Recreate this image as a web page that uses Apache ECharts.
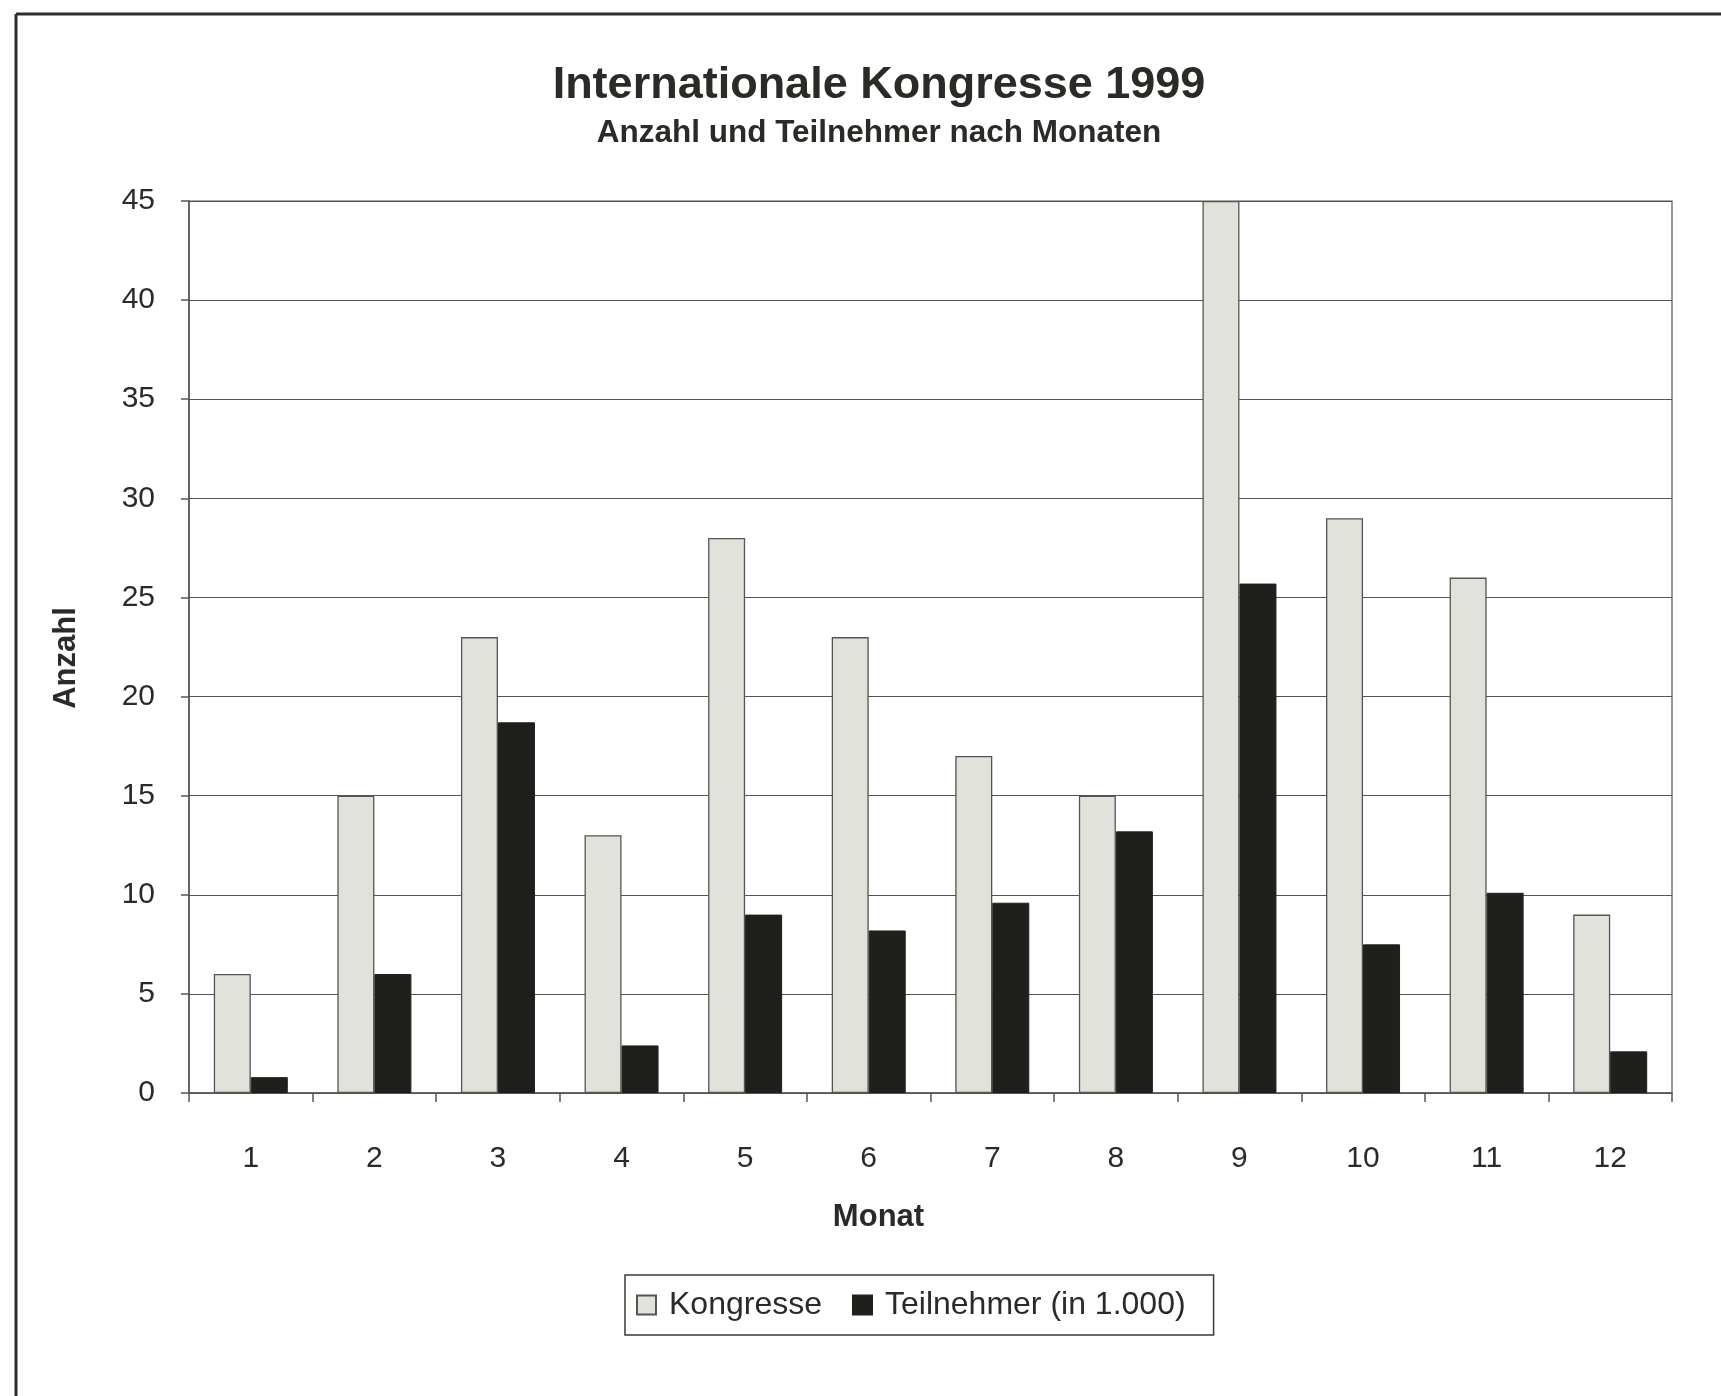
<!DOCTYPE html>
<html>
<head>
<meta charset="utf-8">
<script src="https://cdn.jsdelivr.net/npm/echarts@6/dist/echarts.min.js"></script>
<style>
html,body{margin:0;padding:0;background:#fff;}
#chart{width:1721px;height:1396px;}
</style>
</head>
<body>
<div id="chart"></div>
<script>
const months = ['1','2','3','4','5','6','7','8','9','10','11','12'];
const kongresse = [6, 15, 23, 13, 28, 23, 17, 15, 45, 29, 26, 9];
const teilnehmer = [0.8, 6.0, 18.7, 2.4, 9.0, 8.2, 9.6, 13.2, 25.7, 7.5, 10.1, 2.1];
const yTicks = { min: 0, max: 45, interval: 5 };

const FONT = "'Liberation Sans', Arial, sans-serif";
const TXT = '#2a2b26';

const chart = echarts.init(document.getElementById('chart'), null, { renderer: 'canvas' });
chart.setOption({
  backgroundColor: '#ffffff',
  animation: false,
  textStyle: { fontFamily: FONT, color: TXT },
  graphic: [
    { type: 'line', shape: { x1: 16, y1: 14, x2: 1721, y2: 14 }, style: { stroke: '#2e2f2a', lineWidth: 3 } },
    { type: 'line', shape: { x1: 16, y1: 14, x2: 16, y2: 1396 }, style: { stroke: '#2e2f2a', lineWidth: 3 } }
  ],
  title: {
    text: 'Internationale Kongresse 1999',
    subtext: 'Anzahl und Teilnehmer nach Monaten',
    left: 879,
    top: 63,
    textAlign: 'center',
    padding: 0,
    itemGap: 9,
    textStyle: { fontFamily: FONT, fontSize: 45, fontWeight: 'bold', color: TXT },
    subtextStyle: { fontFamily: FONT, fontSize: 31.5, fontWeight: 'bold', color: TXT }
  },
  legend: {
    data: ['Kongresse', 'Teilnehmer (in 1.000)'],
    left: 625,
    top: 1275,
    orient: 'horizontal',
    padding: [14, 28, 14, 11],
    itemGap: 30,
    itemWidth: 19,
    itemHeight: 19,
    icon: 'rect',
    borderColor: '#3a3b36',
    borderWidth: 1.5,
    textStyle: { fontFamily: FONT, fontSize: 32, color: TXT, padding: [0, 0, 0, 8] }
  },
  grid: {
    left: 189,
    right: 49,
    top: 201,
    bottom: 303,
    show: true,
    borderColor: '#555650',
    borderWidth: 1.2,
    backgroundColor: 'transparent'
  },
  xAxis: {
    type: 'category',
    data: months,
    name: 'Monat',
    nameLocation: 'middle',
    nameGap: 109,
    nameTextStyle: { fontFamily: FONT, fontSize: 31, fontWeight: 'bold', color: TXT, padding: [0, 104, 0, 0] },
    axisLine: { show: true, lineStyle: { color: '#555650', width: 1.5 } },
    axisTick: { show: true, length: 9, lineStyle: { color: '#555650', width: 1.5 } },
    axisLabel: { fontFamily: FONT, fontSize: 30, color: TXT, margin: 51 },
    splitLine: { show: false }
  },
  yAxis: {
    type: 'value',
    min: yTicks.min,
    max: yTicks.max,
    interval: yTicks.interval,
    name: 'Anzahl',
    nameLocation: 'middle',
    nameGap: 107,
    nameRotate: 90,
    nameTextStyle: { fontFamily: FONT, fontSize: 31, fontWeight: 'bold', color: TXT, padding: [0, 22, 0, 0] },
    axisLine: { show: true, lineStyle: { color: '#555650', width: 1.5 } },
    axisTick: { show: true, length: 8, lineStyle: { color: '#555650', width: 1.5 } },
    axisLabel: { fontFamily: FONT, fontSize: 30, color: TXT, margin: 34 },
    splitLine: { show: true, lineStyle: { color: '#555650', width: 1.2 } }
  },
  series: [
    {
      name: 'Kongresse',
      type: 'bar',
      data: kongresse,
      barWidth: 37,
      barGap: '0%',
      itemStyle: { color: '#e1e2dc', borderColor: '#555650', borderWidth: 1.3 }
    },
    {
      name: 'Teilnehmer (in 1.000)',
      type: 'bar',
      data: teilnehmer,
      barWidth: 37,
      barGap: '0%',
      itemStyle: { color: '#1f201b', borderColor: '#1f201b', borderWidth: 1 }
    }
  ]
});
</script>
</body>
</html>
